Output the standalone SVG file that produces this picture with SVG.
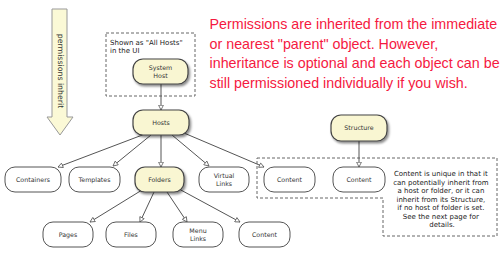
<svg xmlns="http://www.w3.org/2000/svg" width="500" height="258" viewBox="0 0 500 258">
<defs>
<style>
.n rect{fill:#fff;stroke:#555;stroke-width:1}
.f rect{fill:#f9f6d2;stroke:#444;stroke-width:1.2}
.lbl{font-family:"DejaVu Sans",Verdana,sans-serif;font-size:6.3px;fill:#333;text-anchor:middle}
.c line{stroke:#555;stroke-width:1;marker-end:url(#ah)}
.dash{fill:none;stroke:#666;stroke-width:1;stroke-dasharray:3,2}
.red{font-family:"Liberation Sans",Arial,sans-serif;font-size:14.3px;fill:#f5193f}
.note{font-family:"DejaVu Sans",Verdana,sans-serif;font-size:7px;fill:#222}
</style>
<marker id="ah" viewBox="0 0 10 10" refX="9" refY="5" markerWidth="6" markerHeight="6" orient="auto" markerUnits="userSpaceOnUse">
<path d="M1,1 L9,5 L1,9 z" fill="#fff" stroke="#555" stroke-width="1.3"/>
</marker>
<filter id="sh" x="-20%" y="-20%" width="150%" height="160%">
<feDropShadow dx="1.5" dy="2" stdDeviation="1.3" flood-color="#000" flood-opacity="0.45"/>
</filter>
</defs>

<g id="inherit-arrow">
<polygon points="52,9 67,9 67,117 73,117 60,135 47,117 52,117" fill="#fbf9d6" stroke="#999" stroke-width="1"/>
<text transform="translate(58,71) rotate(90)" font-family="DejaVu Sans,Verdana,sans-serif" font-size="7.8px" fill="#333" text-anchor="middle">permissions inherit</text>
</g>

<g id="red-note">
<text class="red" x="209.5" y="29">Permissions are inherited from the immediate</text>
<text class="red" x="209.5" y="48.5">or nearest "parent" object. However,</text>
<text class="red" x="209.5" y="68">inheritance is optional and each object can be</text>
<text class="red" x="209.5" y="87.5">still permissioned individually if you wish.</text>
</g>

<g id="all-hosts-box">
<rect class="dash" x="106" y="33" width="89" height="63"/>
<text class="note" x="110" y="45">Shown as "All Hosts"</text>
<text class="note" x="110" y="53">in the UI</text>
</g>

<g id="content-box">
<path class="dash" d="M257,158 H497 V236 H383 V198 H257 Z"/>
<text class="note" text-anchor="middle">
<tspan x="442" y="176">Content is unique in that it</tspan>
<tspan x="442" y="184.5">can potentially inherit from</tspan>
<tspan x="442" y="193">a host or folder, or it can</tspan>
<tspan x="442" y="201.5">inherit from its Structure,</tspan>
<tspan x="442" y="210">if no host of folder is set.</tspan>
<tspan x="442" y="218.5">See the next page for</tspan>
<tspan x="442" y="227">details.</tspan>
</text>
</g>

<g class="c" id="connectors">
<line x1="161" y1="84" x2="161" y2="110"/>
<line x1="145" y1="134" x2="58" y2="167"/>
<line x1="151" y1="135" x2="113" y2="166"/>
<line x1="161" y1="135" x2="161" y2="167"/>
<line x1="172" y1="135" x2="209" y2="166"/>
<line x1="184" y1="133" x2="264" y2="167"/>
<line x1="142" y1="190" x2="90" y2="222"/>
<line x1="154" y1="192" x2="140" y2="222"/>
<line x1="167" y1="192" x2="187" y2="222"/>
<line x1="179" y1="189" x2="240" y2="222"/>
<line x1="359" y1="141" x2="359" y2="167"/>
</g>

<g id="system-host" class="f"><rect x="133" y="59" width="55" height="25" rx="10" filter="url(#sh)"/><text class="lbl" x="160.5" y="70">System</text><text class="lbl" x="160.5" y="78">Host</text></g>
<g id="hosts" class="f"><rect x="133" y="110" width="56" height="25" rx="10" filter="url(#sh)"/><text class="lbl" x="161" y="124.5">Hosts</text></g>
<g id="structure" class="f"><rect x="331" y="115" width="56" height="26" rx="10" filter="url(#sh)"/><text class="lbl" x="359" y="130">Structure</text></g>
<g id="containers" class="n"><rect x="5" y="167" width="56" height="25" rx="10"/><text class="lbl" x="33" y="182">Containers</text></g>
<g id="templates" class="n"><rect x="69" y="167" width="51" height="25" rx="10"/><text class="lbl" x="94.5" y="182">Templates</text></g>
<g id="folders" class="f"><rect x="135" y="167" width="49" height="25" rx="10" filter="url(#sh)"/><text class="lbl" x="159.5" y="182">Folders</text></g>
<g id="virtual-links" class="n"><rect x="199" y="167" width="50" height="25" rx="10"/><text class="lbl" x="224" y="178">Virtual</text><text class="lbl" x="224" y="186">Links</text></g>
<g id="content-1" class="n"><rect x="264" y="167" width="51" height="25" rx="10"/><text class="lbl" x="289.5" y="182">Content</text></g>
<g id="content-2" class="n"><rect x="333" y="167" width="52" height="25" rx="10"/><text class="lbl" x="359" y="182">Content</text></g>
<g id="pages" class="n"><rect x="43" y="222" width="50" height="25" rx="10"/><text class="lbl" x="68" y="237">Pages</text></g>
<g id="files" class="n"><rect x="106" y="222" width="50" height="25" rx="10"/><text class="lbl" x="131" y="237">Files</text></g>
<g id="menu-links" class="n"><rect x="173" y="222" width="50" height="25" rx="10"/><text class="lbl" x="198" y="233">Menu</text><text class="lbl" x="198" y="241">Links</text></g>
<g id="content-3" class="n"><rect x="239" y="222" width="51" height="25" rx="10"/><text class="lbl" x="264.5" y="237">Content</text></g>
</svg>
